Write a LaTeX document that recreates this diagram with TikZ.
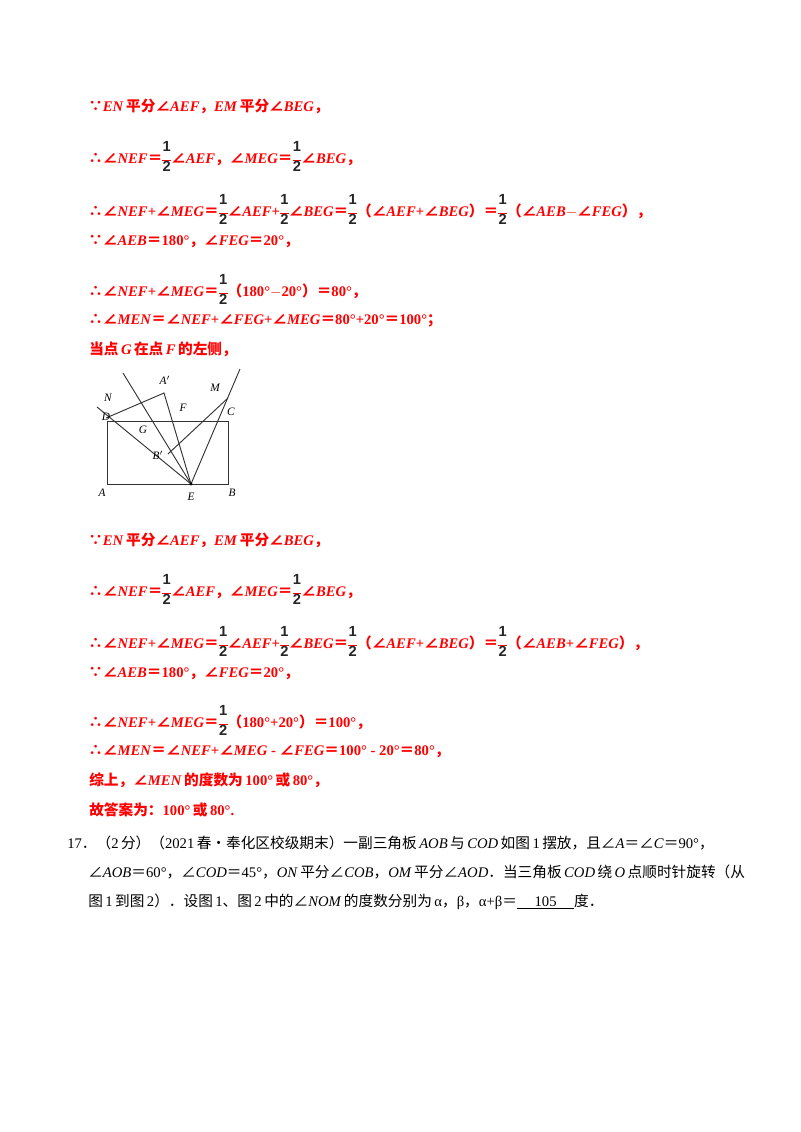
\documentclass[tikz,border=0pt]{standalone}
\usepackage{fontspec}
\setmainfont{Liberation Serif}
\newfontfamily\cjk{Noto Sans CJK SC}
\newfontfamily\fr{Liberation Sans}
\newcommand\zh[1]{{\cjk #1}}
\newcommand\hf{\raisebox{0.2ex}[0pt][0pt]{\begin{tabular}{@{}c@{}}{\fr\bfseries\color{black!85}1}\\[-3pt]\rule[2pt]{0.6em}{0.5pt}\\[-6pt]{\fr\bfseries\color{black!85}2}\end{tabular}}}
\newcommand\ang{\zh{∠}}
\begin{document}
\begin{tikzpicture}[x=0.75pt,y=-0.75pt,
  rl/.style={anchor=base west,inner sep=0pt,text=red,font=\bfseries\fontsize{11}{12}\selectfont},
  bl/.style={anchor=base west,inner sep=0pt,text=black,font=\fontsize{11}{12}\selectfont},
  fig/.style={line width=0.7pt,draw=black!80},
  lab/.style={inner sep=0pt,font=\itshape\fontsize{8.5}{10}\selectfont}]
\useasboundingbox (0,0) rectangle (800,1132);
% first block
\node[rl] (t1) at (88,111) {\zh{∵}\textit{EN}\,\zh{平分}\ang\textit{AEF}\zh{，}\textit{EM}\,\zh{平分}\ang\textit{BEG}\zh{，}};
\node[rl] (t2) at (88,163) {\zh{∴}\ang\textit{NEF}\zh{＝}\hf\ang\textit{AEF}\zh{，}\ang\textit{MEG}\zh{＝}\hf\ang\textit{BEG}\zh{，}};
\node[rl] (t3) at (88,216) {\zh{∴}\ang\textit{NEF}+\ang\textit{MEG}\zh{＝}\hf\ang\textit{AEF}+\hf\ang\textit{BEG}\zh{＝}\hf\zh{（}\ang\textit{AEF}+\ang\textit{BEG}\zh{）＝}\hf\zh{（}\ang\textit{AEB}$-$\ang\textit{FEG}\zh{），}};
\node[rl] (t4) at (88,245) {\zh{∵}\ang\textit{AEB}\zh{＝}180°\zh{，}\ang\textit{FEG}\zh{＝}20°\zh{，}};
\node[rl] (t5) at (88,296) {\zh{∴}\ang\textit{NEF}+\ang\textit{MEG}\zh{＝}\hf\zh{（}180°$-$20°\zh{）＝}80°\zh{，}};
\node[rl] (t6) at (88,324) {\zh{∴}\ang\textit{MEN}\zh{＝}\ang\textit{NEF}+\ang\textit{FEG}+\ang\textit{MEG}\zh{＝}80°+20°\zh{＝}100°\zh{；}};
\node[rl] (t7) at (89,354) {\zh{当点}\,\textit{G}\,\zh{在点}\,\textit{F}\,\zh{的左侧，}};
% figure
\coordinate (A) at (107,484); \coordinate (B) at (228,484);
\coordinate (C) at (228,421); \coordinate (D) at (107,421);
\coordinate (E) at (191,484); \coordinate (Nn) at (97,407);
\coordinate (Tp) at (123,373); \coordinate (Ap) at (164,393);
\coordinate (Mm) at (240,369); \coordinate (Cp) at (228,398);
\coordinate (Bp) at (168,454); \coordinate (Dp) at (106,418);
\draw[fig] (A) rectangle (C);
\draw[fig] (E) -- (Nn);
\draw[fig] (E) -- (Tp);
\draw[fig] (Dp) -- (Ap) -- (E);
\draw[fig] (E) -- (Mm);
\draw[fig] (Cp) -- (Bp);
\fill (E) circle (1.6);
\node[lab] (lN) at (108,398) {N};
\node[lab] (lD) at (106,417) {D};
\node[lab] (lA2) at (165,380) {A$'$};
\node[lab] (lM) at (215,388) {M};
\node[lab] (lF) at (183,408) {F};
\node[lab] (lG) at (143,430) {G};
\node[lab] (lC) at (231,412) {C};
\node[lab] (lB2) at (158,455) {B$'$};
\node[lab] (lA) at (102,493) {A};
\node[lab] (lE) at (191,497) {E};
\node[lab] (lB) at (232,493) {B};
% second block
\node[rl] (s1) at (88,545) {\zh{∵}\textit{EN}\,\zh{平分}\ang\textit{AEF}\zh{，}\textit{EM}\,\zh{平分}\ang\textit{BEG}\zh{，}};
\node[rl] (s2) at (88,596) {\zh{∴}\ang\textit{NEF}\zh{＝}\hf\ang\textit{AEF}\zh{，}\ang\textit{MEG}\zh{＝}\hf\ang\textit{BEG}\zh{，}};
\node[rl] (s3) at (88,648) {\zh{∴}\ang\textit{NEF}+\ang\textit{MEG}\zh{＝}\hf\ang\textit{AEF}+\hf\ang\textit{BEG}\zh{＝}\hf\zh{（}\ang\textit{AEF}+\ang\textit{BEG}\zh{）＝}\hf\zh{（}\ang\textit{AEB}+\ang\textit{FEG}\zh{），}};
\node[rl] (s4) at (88,677) {\zh{∵}\ang\textit{AEB}\zh{＝}180°\zh{，}\ang\textit{FEG}\zh{＝}20°\zh{，}};
\node[rl] (s5) at (88,727) {\zh{∴}\ang\textit{NEF}+\ang\textit{MEG}\zh{＝}\hf\zh{（}180°+20°\zh{）＝}100°\zh{，}};
\node[rl] (s6) at (88,755) {\zh{∴}\ang\textit{MEN}\zh{＝}\ang\textit{NEF}+\ang\textit{MEG} - \ang\textit{FEG}\zh{＝}100° - 20°\zh{＝}80°\zh{，}};
\node[rl] (s7) at (89,785) {\zh{综上，}\ang\textit{MEN}\,\zh{的度数为}\,100°\,\zh{或}\,80°\zh{，}};
\node[rl] (s8) at (89,815) {\zh{故答案为：}100°\,\zh{或}\,80°.};
% problem 17
\node[bl] (p1) at (67,848) {17\zh{．（}2\,\zh{分）（}2021\,\zh{春•奉化区校级期末）一副三角板}\,\textit{AOB}\,\zh{与}\,\textit{COD}\,\zh{如图}\,1\,\zh{摆放，且}\ang\textit{A}\zh{＝}\ang\textit{C}\zh{＝}90°\zh{，}};
\node[bl] (p2) at (88,877) {\ang\textit{AOB}\zh{＝}60°\zh{，}\ang\textit{COD}\zh{＝}45°\zh{，}\textit{ON}\,\zh{平分}\ang\textit{COB}\zh{，}\textit{OM}\,\zh{平分}\ang\textit{AOD}\zh{．当三角板}\,\textit{COD}\,\zh{绕}\,\textit{O}\,\zh{点顺时针旋转（从}};
\node[bl] (p3) at (88,906) {\zh{图}\,1\,\zh{到图}\,2\zh{）．设图}\,1\zh{、图}\,2\,\zh{中的}\ang\textit{NOM}\,\zh{的度数分别为}\,α\zh{，}β\zh{，}α+β\zh{＝}\underline{\hspace{1.2em}105\hspace{1.2em}}\zh{度．}};
\end{tikzpicture}
\end{document}
